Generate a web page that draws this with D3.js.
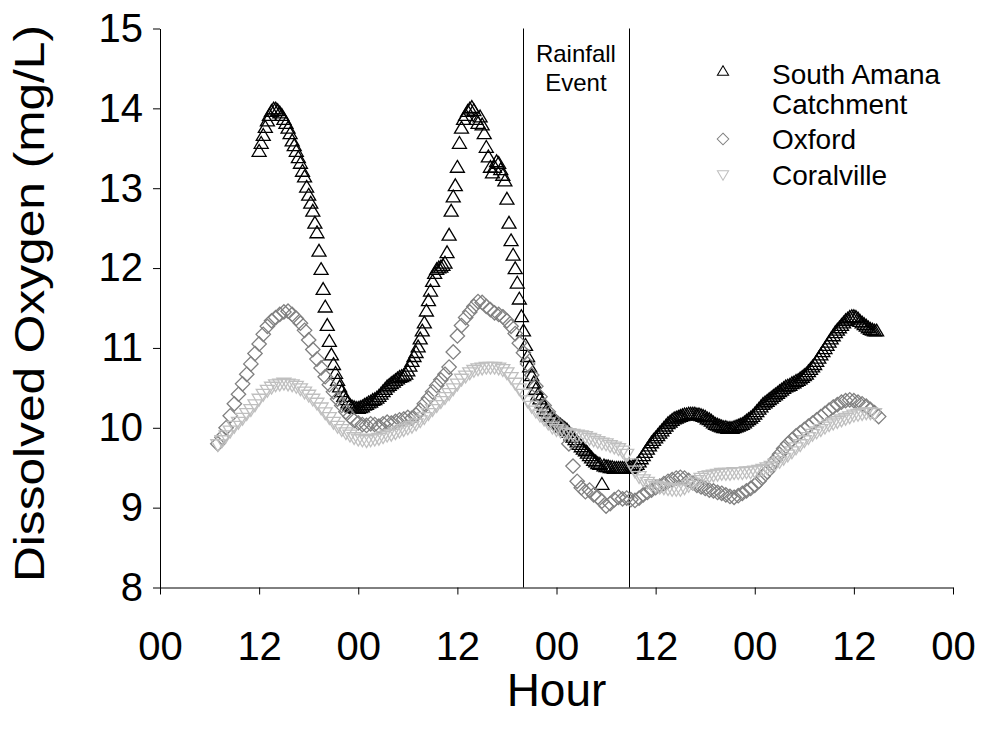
<!DOCTYPE html>
<html>
<head>
<meta charset="utf-8">
<script src="https://cdn.jsdelivr.net/npm/d3@7"></script>
<style>
  html, body { margin: 0; padding: 0; background: #fff; }
  svg { display: block; }
  text { font-family: "Liberation Sans", Arial, sans-serif; fill: #000; }
</style>
</head>
<body>
<svg id="chart" width="995" height="736"></svg>
<script>
// ---------------- data ----------------
const hourTicks = [0, 12, 24, 36, 48, 60, 72, 84, 96];
const hourTickLabels = ["00", "12", "00", "12", "00", "12", "00", "12", "00"];
const doTicks = [8, 9, 10, 11, 12, 13, 14, 15];
const rainfallEvent = [43.9, 56.8];

// South Amana Catchment: readings every 0.25 h starting at hour 12
const southAmanaStart = 12;
const southAmanaStep = 0.25;
const southAmanaDO = [
  13.45, 13.55, 13.65, 13.75, 13.83, 13.9, 13.95, 13.98,
  13.98, 13.96, 13.93, 13.9, 13.85, 13.8, 13.74, 13.67,
  13.58, 13.52, 13.45, 13.37, 13.3, 13.2, 13.13, 13.0,
  12.9, 12.8, 12.7, 12.55, 12.43, 12.2, 11.97, 11.72,
  11.5, 11.27, 11.07, 10.9, 10.78, 10.67, 10.58, 10.5,
  10.44, 10.38, 10.34, 10.3, 10.27, 10.25, 10.24, 10.23,
  10.23, 10.24, 10.25, 10.27, 10.28, 10.3, 10.31, 10.33,
  10.34, 10.36, 10.38, 10.41, 10.44, 10.47, 10.5, 10.52,
  10.54, 10.56, 10.58, 10.6, 10.62, 10.63, 10.64, 10.66,
  10.7, 10.76, 10.82, 10.88, 10.93, 11.0, 11.1, 11.2,
  11.3, 11.45, 11.58, 11.7, 11.82, 11.92, 11.97, 11.99,
  12.0, 12.02, 12.05, 12.18, 12.4, 12.7, 12.88, 13.02,
  13.25, 13.55, 13.74, 13.85, 13.9, 13.95, 13.98, 14.0,
  13.96, 13.85, 13.8, 13.88, 13.78, 13.67, 13.5, 13.38,
  13.25, 13.18, 13.25, 13.32, 13.3, 13.22, 13.15, 13.08,
  12.85, 12.55, 12.33, 12.15, 11.98, 11.8, 11.6, 11.38,
  11.2, 11.02, 10.88, 10.75, 10.64, 10.55, 10.47, 10.4,
  10.35, 10.3, 10.25, 10.2, 10.16, 10.13, 10.1, 10.08,
  10.06, 10.04, 10.02, 10.0, 9.98, 9.96, 9.93, 9.9,
  9.87, 9.84, 9.81, 9.78, 9.75, 9.72, 9.7, 9.67,
  9.64, 9.61, 9.58, 9.56, 9.54, 9.53, 9.28, 9.51,
  9.5, 9.5, 9.49, 9.49, 9.48, 9.48, 9.48, 9.48,
  9.48, 9.48, 9.48, 9.48, 9.49, 9.5, 9.51, 9.53,
  9.56, 9.6, 9.64, 9.68, 9.72, 9.76, 9.8, 9.83,
  9.86, 9.89, 9.92, 9.95, 9.98, 10.01, 10.04, 10.06,
  10.08, 10.1, 10.11, 10.12, 10.13, 10.14, 10.15, 10.15,
  10.16, 10.16, 10.16, 10.16, 10.15, 10.15, 10.14, 10.13,
  10.12, 10.1, 10.09, 10.07, 10.05, 10.03, 10.02, 10.01,
  10.0, 9.99, 9.99, 9.98, 9.98, 9.98, 9.99, 10.0,
  10.01, 10.02, 10.03, 10.05, 10.07, 10.09, 10.11, 10.13,
  10.16, 10.19, 10.22, 10.25, 10.28, 10.3, 10.32, 10.34,
  10.36, 10.38, 10.4, 10.42, 10.44, 10.46, 10.48, 10.5,
  10.51, 10.52, 10.54, 10.55, 10.57, 10.58, 10.6, 10.62,
  10.64, 10.66, 10.69, 10.72, 10.75, 10.78, 10.82, 10.86,
  10.9, 10.94, 10.98, 11.02, 11.06, 11.1, 11.14, 11.18,
  11.21, 11.24, 11.27, 11.3, 11.33, 11.35, 11.37, 11.38,
  11.38, 11.37, 11.35, 11.32, 11.3, 11.28, 11.26, 11.24,
  11.22, 11.21, 11.2, 11.2
];

// Oxford: readings every 0.5 h starting at hour 7
const oxfordStart = 7;
const oxfordStep = 0.5;
const oxfordDO = [
  9.8, 9.88, 10.0, 10.15, 10.3, 10.42, 10.55, 10.67,
  10.8, 10.93, 11.05, 11.17, 11.27, 11.34, 11.38, 11.42,
  11.45, 11.46, 11.42, 11.37, 11.31, 11.22, 11.1, 10.98,
  10.86, 10.75, 10.64, 10.54, 10.45, 10.36, 10.28, 10.2,
  10.14, 10.09, 10.06, 10.04, 10.03, 10.05, 10.04, 10.02,
  10.05, 10.07, 10.06, 10.08, 10.1, 10.11, 10.13, 10.12,
  10.16, 10.22, 10.3, 10.37, 10.45, 10.53, 10.6, 10.67,
  10.76, 10.95, 11.15, 11.28, 11.38, 11.45, 11.52, 11.58,
  11.57, 11.52, 11.48, 11.44, 11.42, 11.39, 11.34, 11.27,
  11.18, 11.06, 10.94, 10.8, 10.66, 10.52, 10.39, 10.28,
  10.2, 10.12, 10.06, 10.01, 9.96, 9.8, 9.52, 9.33,
  9.25, 9.2, 9.22, 9.16, 9.13, 9.08, 9.02, 9.05,
  9.1, 9.13, 9.11, 9.12, 9.1, 9.09, 9.12, 9.16,
  9.19, 9.22, 9.25, 9.27, 9.3, 9.33, 9.35, 9.37,
  9.38, 9.37, 9.34, 9.31, 9.28, 9.26, 9.24, 9.22,
  9.21, 9.19, 9.18, 9.16, 9.14, 9.13, 9.15, 9.18,
  9.21, 9.24, 9.28, 9.33, 9.39, 9.45, 9.53, 9.6,
  9.67, 9.74, 9.8, 9.85, 9.9, 9.94, 9.98, 10.02,
  10.06, 10.1, 10.14, 10.18, 10.22, 10.26, 10.29, 10.32,
  10.34, 10.35, 10.34, 10.32, 10.3, 10.27, 10.23, 10.19,
  10.14
];

// Coralville: readings every 0.5 h starting at hour 7
const coralvilleStart = 7;
const coralvilleStep = 0.5;
const coralvilleDO = [
  9.8, 9.85, 9.91, 9.97, 10.03, 10.08, 10.13, 10.19,
  10.24, 10.3, 10.37, 10.43, 10.48, 10.52, 10.55, 10.56,
  10.57, 10.56, 10.55, 10.53, 10.5, 10.46, 10.42, 10.37,
  10.32, 10.26, 10.2, 10.14, 10.08, 10.03, 9.99, 9.95,
  9.92, 9.89, 9.87, 9.86, 9.85, 9.86, 9.87, 9.88,
  9.9, 9.92, 9.93, 9.95, 9.97, 9.99, 10.01, 10.03,
  10.06, 10.1, 10.14, 10.19, 10.24, 10.29, 10.34, 10.39,
  10.44, 10.5, 10.56, 10.62, 10.66, 10.7, 10.73, 10.75,
  10.76, 10.77, 10.77, 10.77, 10.76, 10.74, 10.7, 10.64,
  10.57, 10.5, 10.43, 10.35, 10.28, 10.22, 10.17, 10.12,
  10.07, 10.02, 9.99, 9.97, 9.95, 9.94, 9.93, 9.92,
  9.91, 9.9, 9.88, 9.86, 9.84, 9.82, 9.81, 9.79,
  9.77, 9.75, 9.72, 9.68, 9.56, 9.47, 9.4, 9.36,
  9.33, 9.3, 9.28, 9.27, 9.26, 9.25, 9.24, 9.24,
  9.24, 9.26, 9.29, 9.32, 9.35, 9.38, 9.4, 9.41,
  9.42, 9.43, 9.44, 9.44, 9.44, 9.45, 9.45, 9.45,
  9.46, 9.46, 9.47, 9.48, 9.49, 9.51, 9.53, 9.56,
  9.59, 9.63, 9.67, 9.71, 9.76, 9.8, 9.85, 9.89,
  9.93, 9.96, 9.99, 10.02, 10.05, 10.07, 10.09, 10.11,
  10.13, 10.15, 10.17, 10.18, 10.19, 10.2, 10.2, 10.19
];

const seriesNames = ["South Amana", "Oxford", "Coralville"];

// ---------------- chart ----------------
const svg = d3.select("#chart");
const margin = { left: 160, right: 42, top: 28.5, bottom: 148.5 };
const W = 995, H = 736;

const x = d3.scaleLinear().domain([0, 96]).range([margin.left, W - margin.right]);
const y = d3.scaleLinear().domain([8, 15]).range([H - margin.bottom, margin.top]);

function toPoints(start, step, values) {
  return values.map((v, i) => ({ h: start + i * step, v }));
}

const symbols = {
  triUp: "M0,-7.8L7,4L-7,4Z",
  triDown: "M0,7.8L7,-4L-7,-4Z",
  diamond: "M0,-7.2L7.2,0L0,7.2L-7.2,0Z"
};

const series = [
  { name: "South Amana", pts: toPoints(southAmanaStart, southAmanaStep, southAmanaDO), sym: symbols.triUp, color: "#000000" },
  { name: "Oxford", pts: toPoints(oxfordStart, oxfordStep, oxfordDO), sym: symbols.diamond, color: "#808080" },
  { name: "Coralville", pts: toPoints(coralvilleStart, coralvilleStep, coralvilleDO), sym: symbols.triDown, color: "#bfbfbf" }
];

// rainfall event lines
svg.append("g").selectAll("line").data(rainfallEvent).join("line")
  .attr("x1", d => Math.round(x(d)) + 0.5).attr("x2", d => Math.round(x(d)) + 0.5)
  .attr("y1", y(15)).attr("y2", y(8))
  .attr("stroke", "#000").attr("stroke-width", 1);

const rx = (x(rainfallEvent[0]) + x(rainfallEvent[1])) / 2;
svg.append("text").attr("x", rx).attr("y", 62).attr("text-anchor", "middle")
  .style("font-size", "24px").text("Rainfall");
svg.append("text").attr("x", rx).attr("y", 91).attr("text-anchor", "middle")
  .style("font-size", "24px").text("Event");

// markers
series.forEach(s => {
  svg.append("g").attr("class", "series")
    .selectAll("path").data(s.pts).join("path")
    .attr("d", s.sym)
    .attr("transform", d => `translate(${x(d.h)},${y(d.v)})`)
    .attr("fill", "none")
    .attr("stroke", s.color)
    .attr("stroke-width", 1.3);
});

// axes
const xAxis = d3.axisBottom(x).tickValues(hourTicks)
  .tickFormat((d, i) => hourTickLabels[i]).tickSize(7).tickSizeOuter(0).tickPadding(37);
const gx = svg.append("g").attr("transform", `translate(0,${y(8)})`).call(xAxis);
gx.selectAll("text").style("font-size", "40px").style("font-family", "Liberation Sans, Arial, sans-serif");
gx.selectAll("line, path").attr("stroke", "#000");

const yAxis = d3.axisLeft(y).tickValues(doTicks).tickFormat(d3.format("d"))
  .tickSize(7).tickSizeOuter(0).tickPadding(10);
const gy = svg.append("g").attr("transform", `translate(${x(0)},0)`).call(yAxis);
gy.selectAll("text").style("font-size", "40px").style("font-family", "Liberation Sans, Arial, sans-serif");
gy.selectAll("line, path").attr("stroke", "#000");

// axis titles
svg.append("text").attr("x", (x(0) + x(96)) / 2).attr("y", 706)
  .attr("text-anchor", "middle").style("font-size", "46px").text("Hour");
svg.append("text")
  .attr("transform", `translate(44,${303.5}) rotate(-90)`)
  .attr("text-anchor", "middle")
  .attr("textLength", 557).attr("lengthAdjust", "spacingAndGlyphs")
  .style("font-size", "43px").text("Dissolved Oxygen (mg/L)");

// legend
const legend = [
  { lines: ["South Amana", "Catchment"], sym: symbols.triUp, color: "#000", my: 72, ty: 84 },
  { lines: ["Oxford"], sym: symbols.diamond, color: "#808080", my: 139, ty: 149 },
  { lines: ["Coralville"], sym: symbols.triDown, color: "#bfbfbf", my: 174, ty: 185 }
];
const lg = svg.append("g");
legend.forEach(l => {
  lg.append("path").attr("d", l.sym).attr("transform", `translate(723,${l.my}) scale(0.8)`)
    .attr("fill", "none").attr("stroke", l.color).attr("stroke-width", 1.3);
  l.lines.forEach((t, i) => {
    lg.append("text").attr("x", 772).attr("y", l.ty + i * 30).style("font-size", "28px").text(t);
  });
});
</script>
</body>
</html>
